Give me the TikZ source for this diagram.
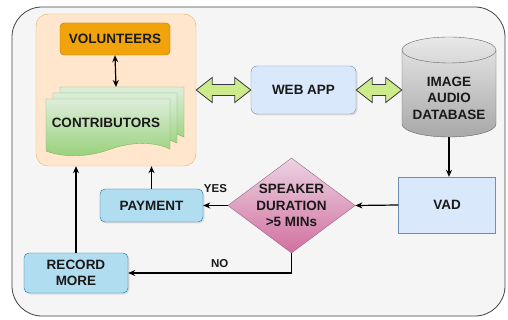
\documentclass[tikz,border=0pt]{standalone}
\usepackage{fontspec}
\setmainfont{Liberation Sans}
\usepackage{tikz}
\usetikzlibrary{arrows.meta,calc,shapes,shapes.geometric,positioning,shadows}

\definecolor{outerfill}{HTML}{F5F5F5}
\definecolor{outerline}{HTML}{444444}
\definecolor{contfill}{HTML}{FFE6CC}
\definecolor{contline}{HTML}{E8B464}
\definecolor{volfill}{HTML}{F0A30A}
\definecolor{volline}{HTML}{BD7000}
\definecolor{appfill}{HTML}{DAE8FC}
\definecolor{appline}{HTML}{6C8EBF}
\definecolor{payfill}{HTML}{B1DDF0}
\definecolor{payline}{HTML}{10739E}
\definecolor{dectop}{HTML}{EBD3E2}
\definecolor{decbot}{HTML}{D2709F}
\definecolor{decline}{HTML}{996185}
\definecolor{doctop}{HTML}{DDEEDB}
\definecolor{docbot}{HTML}{97D077}
\definecolor{docline}{HTML}{82B366}
\definecolor{flexfill}{HTML}{CDEB8B}
\definecolor{flexline}{HTML}{36393D}
\definecolor{dbtop}{HTML}{E8E8E8}
\definecolor{dbbot}{HTML}{A8A8A8}
\definecolor{dbline}{HTML}{666666}

\tikzstyle{outerbox} = [draw=outerline, fill=outerfill, rounded corners=30pt, line width=0.8pt]
\tikzstyle{container} = [rectangle, rounded corners=12pt, draw=contline, fill=contfill, minimum width=160pt, minimum height=152pt]
\tikzstyle{volbox} = [rectangle, rounded corners=4pt, draw=volline, fill=volfill, minimum width=110pt, minimum height=32pt, text centered]
\tikzstyle{appbox} = [rectangle, rounded corners=6pt, draw=appline, fill=appfill, minimum width=105pt, minimum height=48pt, text centered, drop shadow={shadow xshift=1.5pt, shadow yshift=-1.5pt, opacity=0.2}]
\tikzstyle{vadbox} = [rectangle, draw=appline, fill=appfill, minimum width=97pt, minimum height=56pt, text centered]
\tikzstyle{paybox} = [rectangle, rounded corners=5pt, draw=payline, fill=payfill, minimum width=103pt, minimum height=33pt, align=center, drop shadow={shadow xshift=1.5pt, shadow yshift=-1.5pt, opacity=0.2}]
\tikzstyle{decision} = [diamond, draw=decline, top color=dectop, bottom color=decbot, minimum width=127pt, minimum height=95pt, inner sep=0pt, aspect=1.34, align=center]
\tikzstyle{dbshape} = [rectangle, minimum width=94pt, minimum height=78pt, align=center]
\tikzstyle{doc} = [draw=docline, top color=doctop, bottom color=docbot]
\tikzstyle{flex} = [draw=flexline, fill=flexfill, line width=0.8pt, line join=miter]
\tikzstyle{link} = [->, line width=1.2pt]
\tikzstyle{lbl} = [font=\bfseries\fontsize{11.5}{13}\selectfont]

% one sheet of the contributors stack
\newcommand{\contribdoc}[2]{\path[doc] (#1,#2) -- ({#1+124},#2) -- ({#1+124},{#2+50}) .. controls ({#1+105},{#2+41}) and ({#1+80},{#2+44}) .. ({#1+62},{#2+51}) .. controls ({#1+42},{#2+58}) and ({#1+18},{#2+59}) .. (#1,{#2+52}) -- cycle;}

% hollow double arrow
\newcommand{\flexlink}[2]{\draw[flex] let \p1=(#1), \p2=(#2) in (\x1,\y1) -- (\x1+16pt,\y1+12.5pt) -- (\x1+16pt,\y1+5.5pt) -- (\x2-16pt,\y1+5.5pt) -- (\x2-16pt,\y1+12.5pt) -- (\x2,\y1) -- (\x2-16pt,\y1-12.5pt) -- (\x2-16pt,\y1-5.5pt) -- (\x1+16pt,\y1-5.5pt) -- (\x1+16pt,\y1-12.5pt) -- cycle;}

\begin{document}
\begin{tikzpicture}[x=1pt, y=-1pt, >={Stealth[length=7pt,width=6pt]}, font=\bfseries\fontsize{13.5}{16.5}\selectfont, text=black!90]
	\fill[white] (0,0) rectangle (508,320);
	\useasboundingbox (0,0) rectangle (508,320);
	\draw[outerbox] (12,7) rectangle (505,316);
	
	\node[container] (cont) at (116,90) {};
	\node[volbox] (vol) at (115,39) {VOLUNTEERS};
	\contribdoc{60}{87}
	\contribdoc{53}{93}
	\contribdoc{46}{99}
	\node (contrib) at (106,123) {CONTRIBUTORS};
	\coordinate (contribtop) at (116,87);
	
	\node[appbox] (web) at (303.5,90) {WEB APP};
	
	% database cylinder
	\path[draw=dbline, top color=dbtop, bottom color=dbbot] (402,50) -- (402,124) arc[start angle=180, end angle=360, x radius=47pt, y radius=13pt] -- (496,50) arc[start angle=0, end angle=180, x radius=47pt, y radius=13pt] -- cycle;
	\draw[dbline] (402,50) arc[start angle=180, end angle=360, x radius=47pt, y radius=13pt];
	\node[dbshape] (db) at (449,98) {IMAGE\\AUDIO\\DATABASE};
	
	\node[vadbox] (vad) at (447,205) {VAD};
	\node[decision] (dec) at (291.5,205.5) {SPEAKER\\DURATION\\>5 MINs};
	\node[paybox] (pay) at (151.5,205.5) {PAYMENT};
	\node[paybox, minimum width=104pt, minimum height=40pt] (rec) at (76,273) {RECORD\\MORE};
	
	%arrow
	\draw[link, <->] (vol.south) -- (contribtop);
	\flexlink{cont.east}{web.west}
	\flexlink{web.east}{db.west}
	\draw[link] (db.south) -- (db.south |- vad.north);
	\draw[link] (vad.west) -- (dec.east);
	\draw[link] (dec.west) -- node[lbl, above, yshift=9pt] {YES} (pay.east);
	\draw[link] (pay.north) -- (pay.north |- cont.south);
	\draw[link] (dec.south) |- node[lbl, pos=0.72, above, yshift=1pt] {NO} (rec.east);
	\draw[link] (rec.north) -- (rec.north |- cont.south);
\end{tikzpicture}
\end{document}
